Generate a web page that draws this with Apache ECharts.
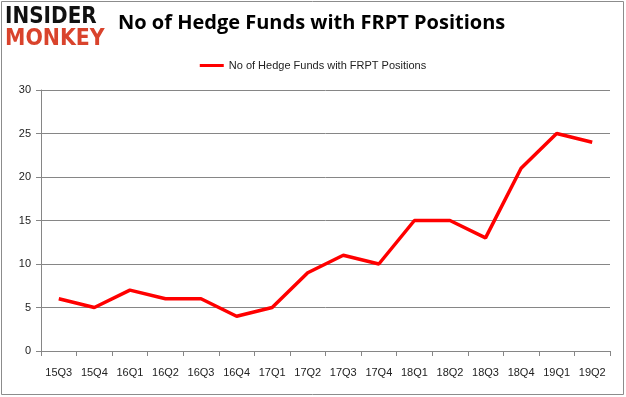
<!DOCTYPE html>
<html>
<head>
<meta charset="utf-8">
<script src="https://cdn.jsdelivr.net/npm/echarts@6/dist/echarts.min.js"></script>
<style>
    html, body { margin: 0; padding: 0; background: #fff; }
    #chart { width: 626px; height: 397px; }
</style>
</head>
<body>
<div id="chart"></div>
<script>
    const quarters = ['15Q3', '15Q4', '16Q1', '16Q2', '16Q3', '16Q4', '17Q1', '17Q2',
        '17Q3', '17Q4', '18Q1', '18Q2', '18Q3', '18Q4', '19Q1', '19Q2'];
    const fundCounts = [6, 5, 7, 6, 6, 4, 5, 9, 11, 10, 15, 15, 13, 21, 25, 24];
    const seriesName = 'No of Hedge Funds with FRPT Positions';

    let myChart = echarts.init(document.getElementById('chart'));
    let option = {
        animation: false,
        backgroundColor: '#fff',
        textStyle: { fontFamily: 'Liberation Sans' },
        graphic: [
            {
                type: 'rect',
                shape: { x: 1.5, y: 1.5, width: 622, height: 393 },
                style: { fill: 'none', stroke: '#8c8c8c', lineWidth: 1 }
            },
            {
                type: 'text', x: 5, y: 5, scaleX: 0.8, scaleY: 0.95,
                style: { text: 'INSIDER', fill: '#111', font: '900 25px "DejaVu Sans"' }
            },
            {
                type: 'text', x: 5, y: 27, scaleX: 0.82, scaleY: 0.95,
                style: { text: 'MONKEY', fill: '#d9432c', font: '900 25px "DejaVu Sans"' }
            },
            {
                type: 'text', left: 118, top: 13,
                style: { text: seriesName, fill: '#000', font: 'bold 20px "Open Sans"' }
            }
        ],
        legend: {
            top: 55,
            left: 'center',
            itemWidth: 24,
            itemHeight: 3,
            icon: 'rect',
            textStyle: { fontSize: 11, color: '#222' },
            data: [seriesName]
        },
        grid: { left: 41, right: 16, top: 90, bottom: 46 },
        xAxis: {
            type: 'category',
            data: quarters,
            boundaryGap: true,
            axisLine: { lineStyle: { color: '#868686' } },
            axisTick: { show: true, length: 5, lineStyle: { color: '#868686' } },
            axisLabel: { color: '#222', fontSize: 11, margin: 16, interval: 0 }
        },
        yAxis: {
            type: 'value',
            min: 0, max: 30, interval: 5,
            axisLine: { show: true, lineStyle: { color: '#868686' } },
            axisTick: { show: true, length: 5, lineStyle: { color: '#868686' } },
            axisLabel: { color: '#222', fontSize: 11, margin: 10 },
            splitLine: { lineStyle: { color: '#868686' } }
        },
        series: [
            {
                name: seriesName,
                type: 'line',
                data: fundCounts,
                symbol: 'none',
                color: '#ff0000',
                lineStyle: { width: 3.5, color: '#ff0000' }
            }
        ]
    };
    myChart.setOption(option);
</script>
</body>
</html>
